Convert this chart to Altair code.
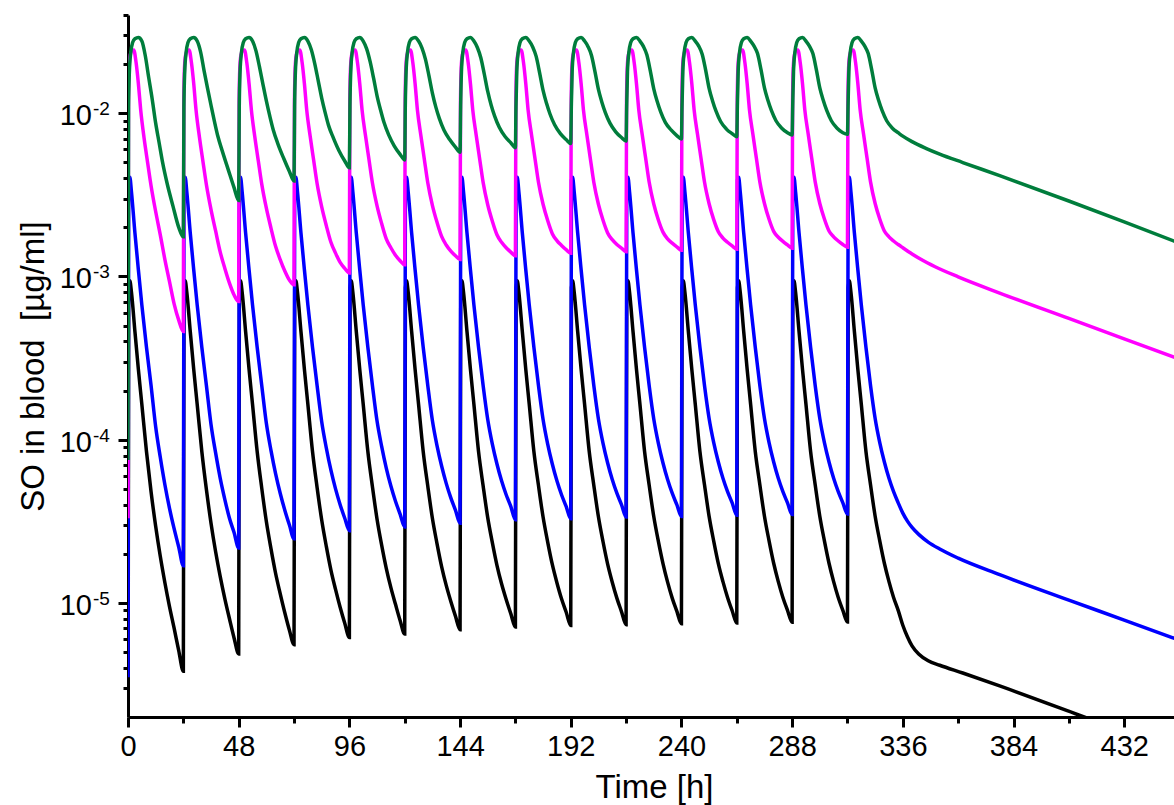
import altair as alt
import pandas as pd

# ---------------- data ----------------
dose_times = [0, 24, 48, 72, 96, 120, 144, 168, 192, 216, 240, 264, 288, 312]

# GREEN
green_offsets = [0, 0.25, 0.6, 1.2, 2, 3, 4.5, 6, 7.5, 9, 10.5, 12, 13.5, 15, 17, 19.5, 22]
green_trough = [7.5e-5, 1.75e-3, 2.92e-3, 3.85e-3, 4.63e-3, 5.18e-3, 5.77e-3,
                6.15e-3, 6.52e-3, 6.76e-3, 6.96e-3, 7.19e-3, 7.37e-3, 7.43e-3]
green_early = [0.011, 0.018, 0.0236, 0.0271, 0.0286, 0.0291, 0.0277]
green_late = [
    [0.0225, 0.0165, 0.0122, 0.0087, 0.0066, 0.0050, 0.0037, 0.0027, 0.0020],
    [0.0237, 0.0182, 0.0142, 0.0112, 0.0089, 0.0072, 0.0058, 0.0045, 0.0035],
    [0.0241, 0.0193, 0.0151, 0.0119, 0.0096, 0.0079, 0.0065, 0.0053, 0.0044],
    [0.0245, 0.0201, 0.0158, 0.0124, 0.0101, 0.0084, 0.0071, 0.0059, 0.0051],
    [0.0248, 0.0207, 0.0164, 0.0128, 0.0105, 0.0088, 0.0074, 0.0063, 0.0056],
    [0.0251, 0.0214, 0.0170, 0.0133, 0.0109, 0.0093, 0.0079, 0.0069, 0.0062],
    [0.0253, 0.0219, 0.0174, 0.0136, 0.0112, 0.0096, 0.0082, 0.0072, 0.0066],
    [0.0255, 0.0223, 0.0177, 0.0138, 0.0115, 0.0099, 0.0085, 0.0075, 0.0069],
    [0.0256, 0.0226, 0.0180, 0.0140, 0.0117, 0.0101, 0.0087, 0.0077, 0.0071],
    [0.0257, 0.0228, 0.0182, 0.0141, 0.0118, 0.0102, 0.0088, 0.0079, 0.0073],
    [0.0258, 0.0230, 0.0184, 0.0142, 0.0119, 0.0103, 0.0089, 0.0080, 0.0075],
    [0.0258, 0.0232, 0.0185, 0.0143, 0.0120, 0.0104, 0.0090, 0.0081, 0.0076],
    [0.0258, 0.0232, 0.0185, 0.0143, 0.0120, 0.0104, 0.0090, 0.0081, 0.0076],
    [0.0258, 0.0232, 0.0185, 0.0143, 0.0120, 0.0104, 0.0090, 0.0081, 0.0076],
]
green_tail_t = [336, 340, 346, 352, 362, 378, 408, 432, 454]
green_tail_v = [7.24e-3, 6.7e-3, 6.1e-3, 5.62e-3, 4.99e-3, 4.15e-3, 2.9e-3, 2.16e-3, 1.64e-3]

# MAGENTA
mag_offsets = [0, 0.2, 0.5, 1, 1.7, 2.5, 3.5, 4.5, 5.5, 7, 8.5, 10, 12, 14, 16, 18, 20, 22]
mag_trough = [3.3e-5, 4.6e-4, 7.03e-4, 8.9e-4, 1.05e-3, 1.18e-3, 1.27e-3,
              1.34e-3, 1.39e-3, 1.42e-3, 1.45e-3, 1.47e-3, 1.49e-3, 1.51e-3]
mag_early = [0.012, 0.019, 0.0228, 0.0242, 0.0244, 0.0205, 0.0152, 0.0105]
mag_late = [
    [7.0e-3, 5.0e-3, 3.6e-3, 2.5e-3, 1.8e-3, 1.27e-3, 9.3e-4, 6.8e-4, 5.4e-4],
    [7.1e-3, 5.07e-3, 3.65e-3, 2.57e-3, 1.9e-3, 1.41e-3, 1.12e-3, 9.1e-4, 7.7e-4],
    [7.16e-3, 5.12e-3, 3.68e-3, 2.62e-3, 1.98e-3, 1.53e-3, 1.27e-3, 1.08e-3, 9.5e-4],
    [7.22e-3, 5.17e-3, 3.71e-3, 2.67e-3, 2.05e-3, 1.62e-3, 1.39e-3, 1.22e-3, 1.12e-3],
    [7.28e-3, 5.21e-3, 3.74e-3, 2.71e-3, 2.11e-3, 1.70e-3, 1.50e-3, 1.35e-3, 1.25e-3],
    [7.31e-3, 5.23e-3, 3.75e-3, 2.73e-3, 2.15e-3, 1.76e-3, 1.56e-3, 1.43e-3, 1.34e-3],
    [7.34e-3, 5.25e-3, 3.77e-3, 2.75e-3, 2.18e-3, 1.80e-3, 1.62e-3, 1.50e-3, 1.41e-3],
    [7.36e-3, 5.27e-3, 3.78e-3, 2.77e-3, 2.20e-3, 1.83e-3, 1.66e-3, 1.55e-3, 1.46e-3],
    [7.36e-3, 5.27e-3, 3.78e-3, 2.77e-3, 2.21e-3, 1.85e-3, 1.68e-3, 1.57e-3, 1.49e-3],
    [7.38e-3, 5.28e-3, 3.79e-3, 2.78e-3, 2.22e-3, 1.87e-3, 1.70e-3, 1.60e-3, 1.52e-3],
    [7.38e-3, 5.29e-3, 3.79e-3, 2.79e-3, 2.23e-3, 1.88e-3, 1.72e-3, 1.62e-3, 1.54e-3],
    [7.4e-3, 5.3e-3, 3.8e-3, 2.8e-3, 2.24e-3, 1.89e-3, 1.74e-3, 1.64e-3, 1.56e-3],
    [7.4e-3, 5.3e-3, 3.8e-3, 2.8e-3, 2.25e-3, 1.90e-3, 1.75e-3, 1.65e-3, 1.57e-3],
    [7.4e-3, 5.3e-3, 3.8e-3, 2.8e-3, 2.25e-3, 1.90e-3, 1.75e-3, 1.65e-3, 1.57e-3],
]
mag_tail_t = [336, 340, 344, 350, 360, 378, 408, 432, 454]
mag_tail_v = [1.5e-3, 1.374e-3, 1.27e-3, 1.148e-3, 9.95e-4, 7.92e-4, 5.53e-4, 4.15e-4, 3.19e-4]

# BLUE
blue_offsets = [0, 0.3, 0.8, 1.5, 3, 4.5, 6, 8, 10, 12, 14, 16, 18, 20, 22]
blue_trough = [3.5e-6, 1.69e-5, 2.17e-5, 2.47e-5, 2.77e-5, 2.92e-5, 3.08e-5,
               3.23e-5, 3.28e-5, 3.36e-5, 3.39e-5, 3.44e-5, 3.48e-5, 3.5e-5]
blue_early = [3.9e-3, 4.05e-3, 3.3e-3, 1.85e-3, 1.1e-3, 6.7e-4, 3.7e-4, 2.15e-4]
blue_late = [
    [1.20e-4, 7.8e-5, 5.3e-5, 3.8e-5, 2.85e-5, 2.2e-5],
    [1.24e-4, 8.3e-5, 5.8e-5, 4.3e-5, 3.3e-5, 2.7e-5],
    [1.26e-4, 8.6e-5, 6.2e-5, 4.7e-5, 3.7e-5, 3.0e-5],
    [1.29e-4, 8.9e-5, 6.5e-5, 5.0e-5, 4.0e-5, 3.3e-5],
    [1.30e-4, 9.1e-5, 6.7e-5, 5.2e-5, 4.2e-5, 3.5e-5],
    [1.31e-4, 9.2e-5, 6.9e-5, 5.4e-5, 4.4e-5, 3.7e-5],
    [1.33e-4, 9.4e-5, 7.1e-5, 5.6e-5, 4.6e-5, 3.9e-5],
    [1.33e-4, 9.4e-5, 7.1e-5, 5.6e-5, 4.6e-5, 3.9e-5],
    [1.34e-4, 9.5e-5, 7.2e-5, 5.7e-5, 4.7e-5, 4.0e-5],
    [1.34e-4, 9.5e-5, 7.2e-5, 5.7e-5, 4.7e-5, 4.0e-5],
    [1.35e-4, 9.6e-5, 7.3e-5, 5.8e-5, 4.8e-5, 4.1e-5],
    [1.35e-4, 9.6e-5, 7.3e-5, 5.8e-5, 4.8e-5, 4.1e-5],
    [1.35e-4, 9.6e-5, 7.3e-5, 5.8e-5, 4.8e-5, 4.1e-5],
    [1.35e-4, 9.6e-5, 7.3e-5, 5.8e-5, 4.8e-5, 4.1e-5],
]
blue_tail_t = [336, 338, 340, 343, 347, 352, 360, 378, 408, 432, 454]
blue_tail_v = [3.55e-5, 3.17e-5, 2.9e-5, 2.62e-5, 2.36e-5, 2.14e-5, 1.88e-5, 1.49e-5,
               1.04e-5, 7.85e-6, 6.05e-6]

# BLACK
black_offsets = [0, 0.3, 0.8, 1.5, 3, 4.5, 6, 8, 10, 12, 14, 16, 18, 20, 22]
black_trough = [1.0e-6, 3.81e-6, 4.87e-6, 5.55e-6, 6.15e-6, 6.45e-6, 6.86e-6,
                7.12e-6, 7.28e-6, 7.35e-6, 7.46e-6, 7.53e-6, 7.6e-6, 7.64e-6]
black_early = [8.5e-4, 9.4e-4, 8.0e-4, 4.6e-4, 2.7e-4, 1.65e-4, 8.5e-5]
black_late = [
    [4.8e-5, 2.95e-5, 1.93e-5, 1.33e-5, 9.5e-6, 7.0e-6, 5.1e-6],
    [4.95e-5, 3.08e-5, 2.06e-5, 1.45e-5, 1.06e-5, 8.0e-6, 6.1e-6],
    [5.05e-5, 3.15e-5, 2.15e-5, 1.52e-5, 1.14e-5, 8.7e-6, 6.8e-6],
    [5.1e-5, 3.22e-5, 2.22e-5, 1.59e-5, 1.21e-5, 9.4e-6, 7.5e-6],
    [5.15e-5, 3.26e-5, 2.26e-5, 1.63e-5, 1.24e-5, 9.8e-6, 7.8e-6],
    [5.2e-5, 3.3e-5, 2.31e-5, 1.67e-5, 1.28e-5, 1.02e-5, 8.3e-6],
    [5.22e-5, 3.33e-5, 2.34e-5, 1.70e-5, 1.31e-5, 1.05e-5, 8.6e-6],
    [5.25e-5, 3.36e-5, 2.36e-5, 1.72e-5, 1.33e-5, 1.06e-5, 8.8e-6],
    [5.26e-5, 3.37e-5, 2.37e-5, 1.73e-5, 1.34e-5, 1.07e-5, 8.85e-6],
    [5.28e-5, 3.38e-5, 2.38e-5, 1.74e-5, 1.34e-5, 1.07e-5, 8.9e-6],
    [5.29e-5, 3.39e-5, 2.39e-5, 1.74e-5, 1.35e-5, 1.08e-5, 8.95e-6],
    [5.3e-5, 3.4e-5, 2.4e-5, 1.75e-5, 1.35e-5, 1.08e-5, 9.0e-6],
    [5.3e-5, 3.4e-5, 2.4e-5, 1.75e-5, 1.35e-5, 1.08e-5, 9.0e-6],
    [5.3e-5, 3.4e-5, 2.4e-5, 1.75e-5, 1.35e-5, 1.08e-5, 9.0e-6],
]
black_tail_t = [336, 338, 340, 343, 347, 352, 362, 378, 416, 454]
black_tail_v = [7.3e-6, 6.2e-6, 5.45e-6, 4.85e-6, 4.42e-6, 4.15e-6, 3.72e-6, 3.1e-6,
                1.97e-6, 1.25e-6]

# axis ticks and labels
x_major = [0, 48, 96, 144, 192, 240, 288, 336, 384, 432]
x_minor = [24, 72, 120, 168, 216, 264, 312, 360, 408]
y_major = [1e-5, 1e-4, 1e-3, 1e-2]
y_label_exps = ["-5", "-4", "-3", "-2"]
y_minor = [3e-6, 4e-6, 5e-6, 6e-6, 7e-6, 8e-6, 9e-6,
           2e-5, 3e-5, 4e-5, 5e-5, 6e-5, 7e-5, 8e-5, 9e-5,
           2e-4, 3e-4, 4e-4, 5e-4, 6e-4, 7e-4, 8e-4, 9e-4,
           2e-3, 3e-3, 4e-3, 5e-3, 6e-3, 7e-3, 8e-3, 9e-3,
           2e-2, 3e-2, 4e-2]
y_title = "SO in blood\u00a0 [µg/ml]"
x_title = "Time [h]"

colors = {"black": "#000000", "blue": "#0000FF", "magenta": "#FF00FF", "green": "#007D3C"}


def series_df(offsets, trough, early, late, tail_t, tail_v):
    rows = []
    for k, d in enumerate(dose_times):
        vals = [trough[k]] + early + late[k]
        for o, v in zip(offsets, vals):
            rows.append({"t": d + o, "c": v})
    for t, v in zip(tail_t, tail_v):
        rows.append({"t": t, "c": v})
    return pd.DataFrame(rows)


W, H = 1046, 702
FONT = "Liberation Sans"

x_scale = alt.Scale(domain=[0, 453.6], nice=False, zero=False)
y_scale = alt.Scale(type="log", domain=[2e-6, 0.04], nice=False)

x_axis = alt.Axis(
    values=x_major, orient="bottom", format="d",
    tickSize=10, labelFontSize=29, labelFont=FONT, labelColor="black", labelPadding=5,
    title=x_title, titleFontSize=33, titleFont=FONT, titleFontWeight="normal",
    titleColor="black", titleBaseline="alphabetic", titleX=526, titleY=80,
    domainWidth=3, domainColor="black", tickWidth=3, tickColor="black",
    grid=False, labelFlush=False, labelOverlap=False,
)
y_axis = alt.Axis(
    values=y_major, orient="left", labels=False, tickSize=10,
    title=y_title, titleFontSize=33, titleFont=FONT, titleFontWeight="normal",
    titleColor="black", titleBaseline="alphabetic", titleAngle=270, titleAlign="center",
    titleX=-85, titleY=351,
    domainWidth=3, domainColor="black", tickWidth=3, tickColor="black",
    grid=False,
)
x_axis_minor = alt.Axis(values=x_minor, orient="bottom", tickSize=6, labels=False, domain=False,
                        title=None, tickWidth=3, tickColor="black", grid=False)
y_axis_minor = alt.Axis(values=y_minor, orient="left", tickSize=5, labels=False, domain=False,
                        title=None, tickWidth=3, tickColor="black", grid=False)


def line_layer(df, color):
    return alt.Chart(df).mark_line(color=color, strokeWidth=3.5, clip=True,
                                   interpolate="monotone").encode(
        x=alt.X("t:Q", scale=x_scale, axis=x_axis),
        y=alt.Y("c:Q", scale=y_scale, axis=y_axis),
    )


black_df = series_df(black_offsets, black_trough, black_early, black_late, black_tail_t, black_tail_v)
blue_df = series_df(blue_offsets, blue_trough, blue_early, blue_late, blue_tail_t, blue_tail_v)
mag_df = series_df(mag_offsets, mag_trough, mag_early, mag_late, mag_tail_t, mag_tail_v)
green_df = series_df(green_offsets, green_trough, green_early, green_late, green_tail_t, green_tail_v)

lab_df = pd.DataFrame({"v": y_major, "base": ["10"] * 4, "exp": y_label_exps})

base_txt = alt.Chart(lab_df).mark_text(align="right", baseline="middle", fontSize=29,
                                       font=FONT, color="black", dy=3).encode(
    x=alt.value(-36), y=alt.Y("v:Q", scale=y_scale, axis=y_axis), text="base:N")
exp_txt = alt.Chart(lab_df).mark_text(align="left", baseline="middle", fontSize=19,
                                      font=FONT, color="black", dy=-4).encode(
    x=alt.value(-35), y=alt.Y("v:Q", scale=y_scale, axis=y_axis), text="exp:N")

main = alt.layer(
    line_layer(black_df, colors["black"]),
    line_layer(blue_df, colors["blue"]),
    line_layer(mag_df, colors["magenta"]),
    line_layer(green_df, colors["green"]),
    base_txt, exp_txt,
)

minor_df = pd.DataFrame({"t": [0.0], "c": [1e-3]})
minor = alt.Chart(minor_df).mark_point(opacity=0).encode(
    x=alt.X("t:Q", scale=x_scale, axis=x_axis_minor),
    y=alt.Y("c:Q", scale=y_scale, axis=y_axis_minor),
)

chart = alt.layer(minor, main).resolve_axis(x="independent", y="independent").properties(
    width=W, height=H,
    autosize=alt.AutoSizeParams(type="none"),
    padding={"left": 128, "top": 15, "right": 0, "bottom": 88},
    background="white",
).configure_view(strokeWidth=0)

chart.save("out.html", embed_options={"renderer": "svg", "actions": False})
